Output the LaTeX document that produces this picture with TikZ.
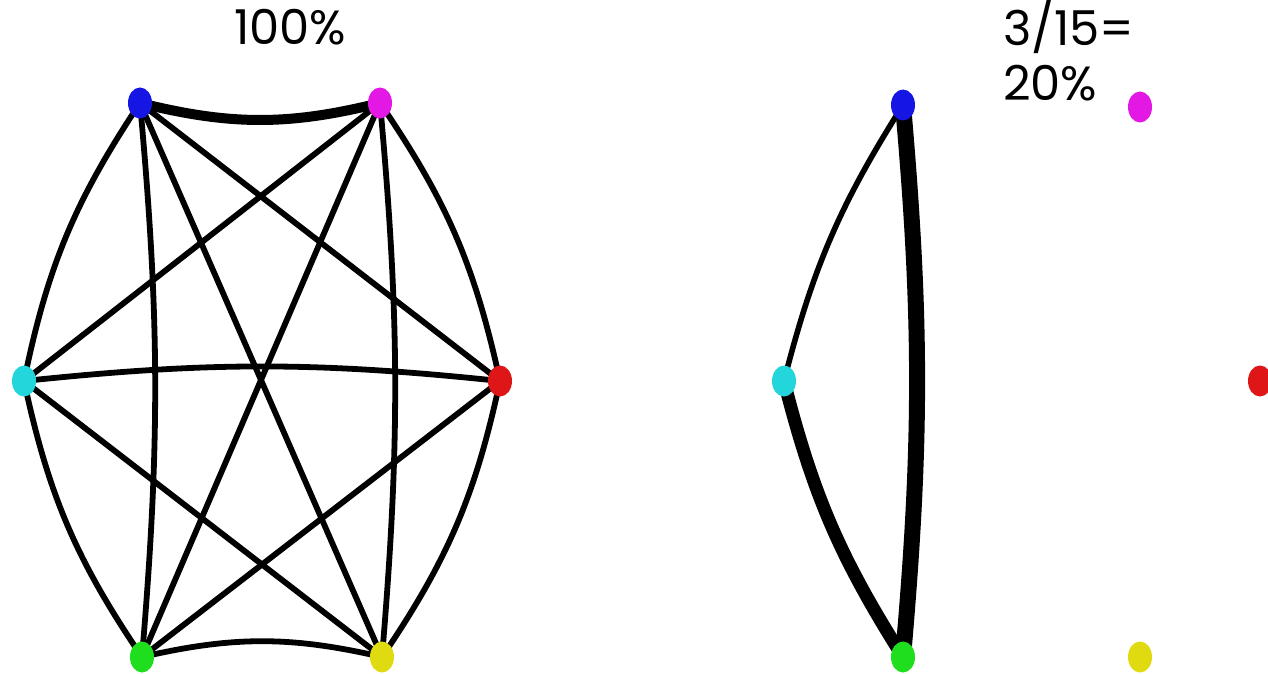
\documentclass[tikz,border=0pt]{standalone}
\usepackage{fontspec}
\setmainfont{Poppins}
\usetikzlibrary{shapes.geometric,backgrounds}
\definecolor{nblue}{RGB}{22,22,228}
\definecolor{nmag}{RGB}{228,24,228}
\definecolor{ncyan}{RGB}{34,214,220}
\definecolor{nred}{RGB}{222,22,24}
\definecolor{ngreen}{RGB}{30,222,30}
\definecolor{nyel}{RGB}{224,218,16}
\tikzset{
  vert/.style={ellipse,minimum width=24pt,minimum height=31pt,inner sep=0pt,fill=#1,draw=none},
  edge/.style={line width=5.8pt,black},
  fat/.style={line width=10pt,black},
  lbl/.style={anchor=base west,inner sep=0pt,font=\fontsize{48}{52}\selectfont}
}
\begin{document}
\begin{tikzpicture}[x=1pt,y=-1pt]
\useasboundingbox (0,0) rectangle (1268,674);
% left graph nodes
\node[vert=nblue]  (b1) at (140,103) {};
\node[vert=nmag]   (m1) at (380,103) {};
\node[vert=ncyan]  (c1) at (24,381) {};
\node[vert=nred]   (r1) at (500,381) {};
\node[vert=ngreen] (g1) at (142,657) {};
\node[vert=nyel]   (y1) at (382,657) {};
% right graph nodes
\node[vert=nblue]  (b2) at (903,105) {};
\node[vert=nmag]   (m2) at (1140,107) {};
\node[vert=ncyan]  (c2) at (784,381) {};
\node[vert=nred]   (r2) at (1260,381) {};
\node[vert=ngreen] (g2) at (903,657) {};
\node[vert=nyel]   (y2) at (1140,657) {};
\begin{pgfonlayer}{background}
% left edges
\draw[fat]  (b1.center) to[bend right=14] (m1.center);
\draw[edge] (b1.center) to[bend right=11] (c1.center);
\draw[edge] (b1.center) -- (r1.center);
\draw[edge] (b1.center) to[bend left=5] (g1.center);
\draw[edge] (b1.center) -- (y1.center);
\draw[edge] (m1.center) -- (c1.center);
\draw[edge] (m1.center) to[bend left=11] (r1.center);
\draw[edge] (m1.center) -- (g1.center);
\draw[edge] (m1.center) to[bend left=5] (y1.center);
\draw[edge] (c1.center) to[bend left=6] (r1.center);
\draw[edge] (c1.center) to[bend right=11] (g1.center);
\draw[edge] (c1.center) -- (y1.center);
\draw[edge] (r1.center) -- (g1.center);
\draw[edge] (r1.center) to[bend left=11] (y1.center);
\draw[edge] (g1.center) to[bend left=13] (y1.center);
% right edges
\draw[line width=16pt] (b2.center) to[bend left=5] (g2.center);
\draw[line width=5.6pt] (c2.center) to[bend left=9] (b2.center);
\draw[line width=13pt] (c2.center) to[bend right=9] (g2.center);
\end{pgfonlayer}
% labels
\node[lbl] (t1) at (234,45) {100\%};
\node[lbl] (t2) at (1003,46) {3/15=};
\node[lbl] (t3) at (1003,101) {20\%};
\end{tikzpicture}
\end{document}
